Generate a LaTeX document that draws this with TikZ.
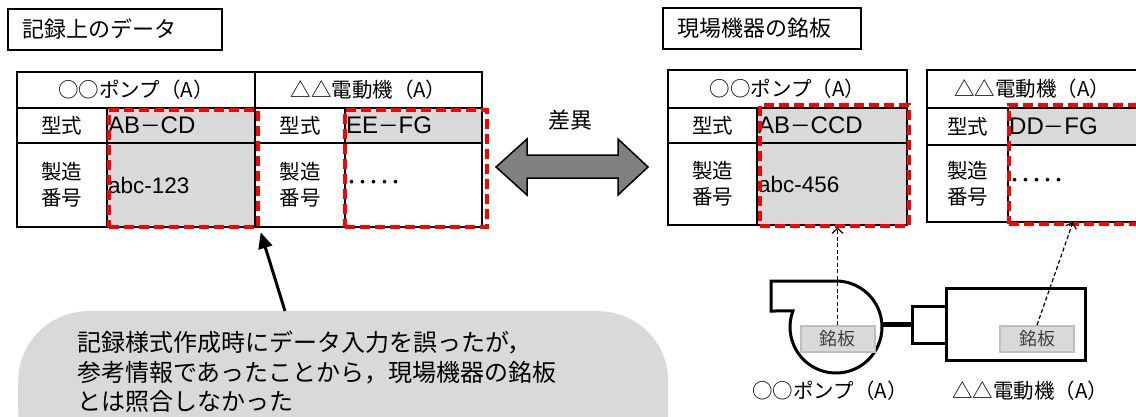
\documentclass[tikz,border=0pt]{standalone}
\usepackage{fontspec}
\setmainfont{Noto Sans CJK JP}
\newfontfamily\numfont{Liberation Sans}
\usetikzlibrary{arrows.meta,positioning}

\definecolor{cellgray}{HTML}{D9D9D9}
\definecolor{arrowgray}{HTML}{808080}
\definecolor{plateedge}{HTML}{BFBFBF}
\definecolor{checkred}{HTML}{FF0000}

% model number: latin letters around a full-width dash
\newcommand\modelno[2]{{\numfont\fontsize{24pt}{26pt}\selectfont #1}－{\numfont\fontsize{24pt}{26pt}\selectfont #2}}

\begin{document}
\begin{tikzpicture}[
		x=1pt,
		y=-1pt,
		grid/.style={draw=black, line width=1.5pt},
		checkbox/.style={draw=checkred, line width=3.5pt, dash pattern=on 10pt off 5pt, inner sep=0pt, anchor=north west},
		txt/.style={inner sep=0pt, font=\fontsize{20.5pt}{26pt}\selectfont},
		titlebox/.style={draw=black, line width=1.5pt, anchor=north west, inner xsep=15pt, minimum height=41pt, align=left, font=\fontsize{22pt}{26pt}\selectfont},
		plate/.style={fill=cellgray, draw=plateedge, line width=2pt, minimum width=74pt, minimum height=26pt, inner sep=0pt, text=black!75, font=\fontsize{18pt}{20pt}\selectfont},
		machine/.style={draw=black, line width=3pt},
		pointer/.style={line width=3pt, -{Triangle[length=16pt,width=14pt]}},
		tagline/.style={line width=1.2pt, dash pattern=on 4pt off 2.5pt, -{Straight Barb[length=5pt,width=11pt]}},
	]
		\useasboundingbox (0,0) rectangle (1136,416);
		\clip (0,0) rectangle (1136,416);

		% data sheets: left pair from the records, right pair from the site
		\foreach \i/\xa/\xb/\xc/\ya/\yb/\yc/\yd/\name/\model/\serial/\sfill in {
			lp/17/107/255/72/108/143/227/{○○ポンプ（A）}/{\modelno{AB}{CD}}/{\numfont\fontsize{22.5pt}{26pt}\selectfont abc-123}/cellgray,
			lm/255/345/482/72/108/143/227/{△△電動機（A）}/{\modelno{EE}{FG}}/{\fontsize{22pt}{26pt}\selectfont ･････}/white,
			rp/668/757/907/70/108/143/225/{○○ポンプ（A）}/{\modelno{AB}{CCD}}/{\numfont\fontsize{22.5pt}{26pt}\selectfont abc-456}/cellgray,
			rm/927/1008/1137/70/108/145/222/{△△電動機（A）}/{\modelno{DD}{FG}}/{\fontsize{22pt}{26pt}\selectfont ･････}/white}{
			\fill[cellgray] (\xb,\yb) rectangle (\xc,\yc);
			\fill[\sfill] (\xb,\yc) rectangle (\xc,\yd);
			\draw[grid] (\xa,\ya) rectangle (\xc,\yd) (\xa,\yb) -- (\xc,\yb) (\xa,\yc) -- (\xc,\yc) (\xb,\yb) -- (\xb,\yd);
			\node[txt] (\i-head) at ({(\xa+\xc)/2},{(\ya+\yb)/2}) {\name};
			\node[txt] (\i-type) at ({(\xa+\xb)/2},{(\yb+\yc)/2}) {型式};
			\node[txt,align=center] (\i-no) at ({(\xa+\xb)/2},{(\yc+\yd)/2}) {製造\\番号};
			\node[txt,anchor=west] (\i-model) at (\xb+1,{(\yb+\yc)/2}) {\model};
			\node[txt,anchor=west] (\i-serial) at (\xb+1,{(\yc+\yd)/2}) {\serial};
		}

		\node[checkbox,minimum width=149pt,minimum height=117pt] (lpbox) at (107,108) {};
		\node[checkbox,minimum width=142pt,minimum height=117pt] (lmbox) at (343,108) {};
		\node[checkbox,minimum width=149pt,minimum height=121pt] (rpbox) at (758,103) {};
		\node[checkbox,minimum width=140pt,minimum height=119pt] (rmbox) at (1007,103) {};

		\node[titlebox,text width=184pt] (rec-title) at (7,8) {記録上のデータ};
		\node[titlebox,text width=168pt] (site-title) at (662,7) {現場機器の銘板};

		% difference arrow
		\draw[fill=arrowgray,draw=black,line width=1.5pt] (496,167) -- (527,139) -- (527,155) -- (618,155) -- (618,139) -- (648,167) -- (618,195) -- (618,178) -- (527,178) -- (527,195) -- cycle;
		\node[font=\fontsize{22pt}{26pt}\selectfont,inner sep=0pt] (diff) at (570,120) {差異};

		% remark
		\node[fill=cellgray,rounded corners=70pt,minimum width=650pt,minimum height=170pt,anchor=north west,inner sep=0pt] (note) at (18,311) {};
		\node[anchor=north west,align=left,inner sep=0pt,font=\fontsize{24pt}{29.5pt}\selectfont] (note-text) at (77,331) {記録様式作成時にデータ入力を誤ったが，\\参考情報であったことから，現場機器の銘板\\とは照合しなかった};
		\coordinate (note-tail) at (285,311);
		\draw[pointer,shorten >=4pt] (note-tail) -- (lpbox.south east);

		% pump and motor on site
		\draw[machine] (771,281) -- (836,281) arc[start angle=-90,end angle=200.4,radius=46] -- (771,311) -- cycle;
		\draw[line width=5pt] (881,324) -- (912,324);
		\draw[machine] (912,306) rectangle (946,343);
		\draw[machine] (946,288) rectangle (1085,360);
		\node[plate] (pump-plate) at (837.5,339) {銘板};
		\node[plate] (motor-plate) at (1037,339) {銘板};
		\coordinate (motor-tag) at (1073,222);
		\draw[tagline] (pump-plate.north) -- (pump-plate.north |- rpbox.south);
		\draw[tagline] (motor-plate.north) -- (motor-tag);
		\node[txt] (pump-name) at (830,391) {○○ポンプ（A）};
		\node[txt] (motor-name) at (1030,391) {△△電動機（A）};
	\end{tikzpicture}
\end{document}
